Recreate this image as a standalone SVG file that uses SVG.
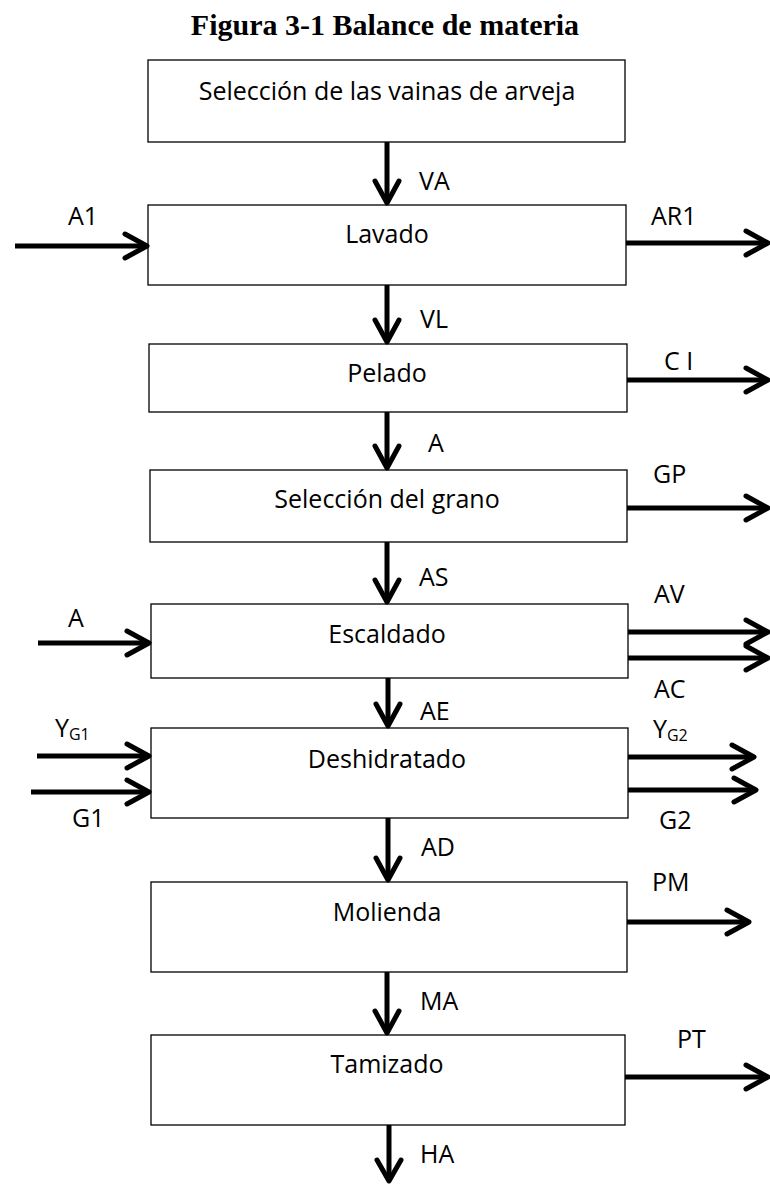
<svg xmlns="http://www.w3.org/2000/svg" width="770" height="1184" viewBox="0 0 770 1184">
  <style>
    .title { font-family: "Liberation Serif", "Times New Roman", serif; font-weight: bold; font-size: 30px; fill: #000; }
    .box { fill: #fff; stroke: #000; stroke-width: 1.3; }
    .lbl { font-family: "Open Sans", "Noto Sans", sans-serif; font-size: 25px; fill: #000; }
    .sub { font-size: 16px; }
    .shaft { fill: none; stroke: #000; stroke-width: 5; }
    .head { fill: none; stroke: #000; stroke-width: 5; stroke-linecap: round; stroke-linejoin: round; }
  </style>

  <text class="title" x="385" y="35" text-anchor="middle">Figura 3-1 Balance de materia</text>

  <g id="seleccion-vainas">
    <rect class="box" x="148" y="60" width="477" height="82"/>
    <text class="lbl" x="387" y="100" text-anchor="middle">Selección de las vainas de arveja</text>
  </g>
  <g id="lavado">
    <rect class="box" x="148" y="205" width="478" height="80"/>
    <text class="lbl" x="387" y="243" text-anchor="middle">Lavado</text>
  </g>
  <g id="pelado">
    <rect class="box" x="149" y="344" width="478" height="68"/>
    <text class="lbl" x="387" y="382" text-anchor="middle">Pelado</text>
  </g>
  <g id="seleccion-grano">
    <rect class="box" x="150" y="470" width="477" height="72"/>
    <text class="lbl" x="387" y="508" text-anchor="middle">Selección del grano</text>
  </g>
  <g id="escaldado">
    <rect class="box" x="151" y="604" width="477" height="74"/>
    <text class="lbl" x="387" y="643" text-anchor="middle">Escaldado</text>
  </g>
  <g id="deshidratado">
    <rect class="box" x="151" y="728" width="477" height="90"/>
    <text class="lbl" x="387" y="768" text-anchor="middle">Deshidratado</text>
  </g>
  <g id="molienda">
    <rect class="box" x="151" y="882" width="476" height="90"/>
    <text class="lbl" x="387" y="921" text-anchor="middle">Molienda</text>
  </g>
  <g id="tamizado">
    <rect class="box" x="151" y="1035" width="474" height="90"/>
    <text class="lbl" x="387" y="1073" text-anchor="middle">Tamizado</text>
  </g>

  <g id="connectors">
    <!-- main vertical flow -->
    <path class="shaft" d="M387 142 V201"/>
    <path class="head" d="M375 181 L387 203 L399 181"/>
    <path class="shaft" d="M387 285 V340"/>
    <path class="head" d="M375 320 L387 342 L399 320"/>
    <path class="shaft" d="M387 412 V466"/>
    <path class="head" d="M375 446 L387 468 L399 446"/>
    <path class="shaft" d="M387 542 V600"/>
    <path class="head" d="M375 580 L387 602 L399 580"/>
    <path class="shaft" d="M388 678 V724"/>
    <path class="head" d="M376 704 L388 726 L400 704"/>
    <path class="shaft" d="M388 818 V878"/>
    <path class="head" d="M376 858 L388 880 L400 858"/>
    <path class="shaft" d="M387 972 V1031"/>
    <path class="head" d="M375 1011 L387 1033 L399 1011"/>
    <path class="shaft" d="M389 1125 V1180"/>
    <path class="head" d="M377 1160 L389 1181 L401 1160"/>

    <!-- inputs from the left -->
    <path class="shaft" d="M15 246 H145"/>
    <path class="head" d="M125 234 L147 246 L125 258"/>
    <path class="shaft" d="M38 643 H147"/>
    <path class="head" d="M127 631 L149 643 L127 655"/>
    <path class="shaft" d="M37 756 H147"/>
    <path class="head" d="M127 744 L149 756 L127 768"/>
    <path class="shaft" d="M31 792 H147"/>
    <path class="head" d="M127 780 L149 792 L127 804"/>

    <!-- outputs to the right -->
    <path class="shaft" d="M626 243 H766"/>
    <path class="head" d="M746 231 L768 243 L746 255"/>
    <path class="shaft" d="M627 380 H766"/>
    <path class="head" d="M746 368 L768 380 L746 392"/>
    <path class="shaft" d="M627 508 H766"/>
    <path class="head" d="M746 496 L768 508 L746 520"/>
    <path class="shaft" d="M628 632 H766"/>
    <path class="head" d="M746 620 L768 632 L746 644"/>
    <path class="shaft" d="M628 658 H766"/>
    <path class="head" d="M746 646 L768 658 L746 670"/>
    <path class="shaft" d="M628 757 H752"/>
    <path class="head" d="M732 745 L754 757 L732 769"/>
    <path class="shaft" d="M628 790 H754"/>
    <path class="head" d="M734 778 L756 790 L734 802"/>
    <path class="shaft" d="M627 922 H747"/>
    <path class="head" d="M727 910 L749 922 L727 934"/>
    <path class="shaft" d="M625 1077 H766"/>
    <path class="head" d="M746 1065 L768 1077 L746 1089"/>
  </g>

  <g id="flow-labels">
    <text class="lbl" x="419" y="190">VA</text>
    <text class="lbl" x="420" y="328">VL</text>
    <text class="lbl" x="428" y="452">A</text>
    <text class="lbl" x="419" y="586">AS</text>
    <text class="lbl" x="420" y="720">AE</text>
    <text class="lbl" x="421" y="856">AD</text>
    <text class="lbl" x="420" y="1010">MA</text>
    <text class="lbl" x="420" y="1163">HA</text>

    <text class="lbl" x="68" y="225">A1</text>
    <text class="lbl" x="68" y="627">A</text>
    <text class="lbl" x="55" y="737">Y<tspan class="sub" dy="3">G1</tspan></text>
    <text class="lbl" x="72" y="827">G1</text>

    <text class="lbl" x="651" y="225">AR1</text>
    <text class="lbl" x="664" y="370">C I</text>
    <text class="lbl" x="653" y="483">GP</text>
    <text class="lbl" x="654" y="603">AV</text>
    <text class="lbl" x="654" y="698">AC</text>
    <text class="lbl" x="653" y="738">Y<tspan class="sub" dy="3">G2</tspan></text>
    <text class="lbl" x="659" y="829">G2</text>
    <text class="lbl" x="652" y="891">PM</text>
    <text class="lbl" x="677" y="1048">PT</text>
  </g>
</svg>
